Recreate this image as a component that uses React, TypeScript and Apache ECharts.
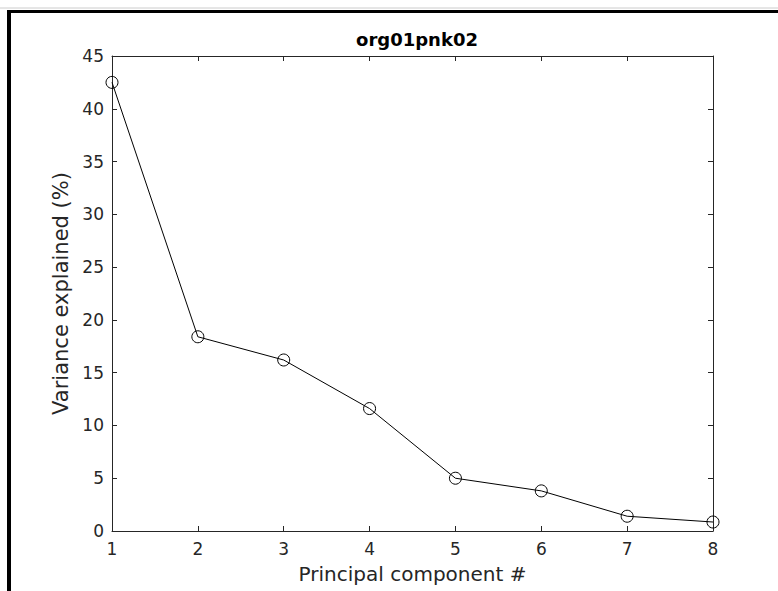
import React, { useEffect, useRef } from "react";
import * as echarts from "echarts";

const components = [1, 2, 3, 4, 5, 6, 7, 8];
const varianceExplained = [42.5, 18.4, 16.2, 11.6, 5.0, 3.8, 1.4, 0.85];
const titleText = "org01pnk02";
const xName = "Principal component #";
const yName = "Variance explained (%)";

const FONT = "DejaVu Sans";
const AX = "#262626";

export default function App() {
  const ref = useRef<HTMLDivElement>(null);
  useEffect(() => {
    if (!ref.current) return;
    const chart = echarts.init(ref.current, null, { renderer: "svg" });
    const data = components.map((c, i) => [c, varianceExplained[i]]);
    const baseX = {
      type: "value" as const,
      min: 1,
      max: 8,
      interval: 1,
      splitLine: { show: false },
      axisLine: { show: true, onZero: false, lineStyle: { color: AX, width: 1 } },
      axisTick: { show: true, inside: true, length: 5, lineStyle: { color: AX } },
    };
    const baseY = {
      type: "value" as const,
      min: 0,
      max: 45,
      interval: 5,
      splitLine: { show: false },
      axisLine: { show: true, onZero: false, lineStyle: { color: AX, width: 1 } },
      axisTick: { show: true, inside: true, length: 5, lineStyle: { color: AX } },
    };
    chart.setOption({
      animation: false,
      backgroundColor: "#ffffff",
      title: {
        text: titleText,
        left: 412,
        textAlign: "center",
        top: 25,
        textStyle: { fontFamily: FONT, fontWeight: "bold", fontSize: 18, color: "#000" },
      },
      grid: { left: 112, right: 65, top: 56, bottom: 60 },
      xAxis: [
        {
          ...baseX,
          position: "bottom",
          name: xName,
          nameLocation: "middle",
          nameGap: 33,
          nameTextStyle: { fontFamily: FONT, fontSize: 20, color: AX },
          axisLabel: { fontFamily: FONT, fontSize: 17, color: AX, margin: 9 },
        },
        { ...baseX, position: "top", axisLabel: { show: false } },
      ],
      yAxis: [
        {
          ...baseY,
          position: "left",
          name: yName,
          nameLocation: "middle",
          nameGap: 36,
          nameTextStyle: { fontFamily: FONT, fontSize: 21, color: AX },
          axisLabel: { fontFamily: FONT, fontSize: 17, color: AX, margin: 8 },
        },
        { ...baseY, position: "right", axisLabel: { show: false } },
      ],
      series: [
        {
          type: "line",
          data,
          symbol: "circle",
          symbolSize: 12,
          showSymbol: true,
          lineStyle: { color: "#000", width: 1 },
          itemStyle: { color: "rgba(0,0,0,0)", borderColor: "#000", borderWidth: 1 },
          emphasis: { disabled: true },
        },
      ],
      graphic: [
        { type: "line", shape: { x1: 0, y1: 8, x2: 778, y2: 8 }, style: { stroke: "#cccccc", lineWidth: 1 } },
        { type: "rect", shape: { x: 7, y: 10, width: 771, height: 3 }, style: { fill: "#000" } },
        { type: "rect", shape: { x: 7, y: 10, width: 4, height: 581 }, style: { fill: "#000" } },
      ],
    });
    return () => chart.dispose();
  }, []);
  return (
    <div
      ref={ref}
      style={{ position: "fixed", left: 0, top: 0, width: 778, height: 591 }}
    />
  );
}
